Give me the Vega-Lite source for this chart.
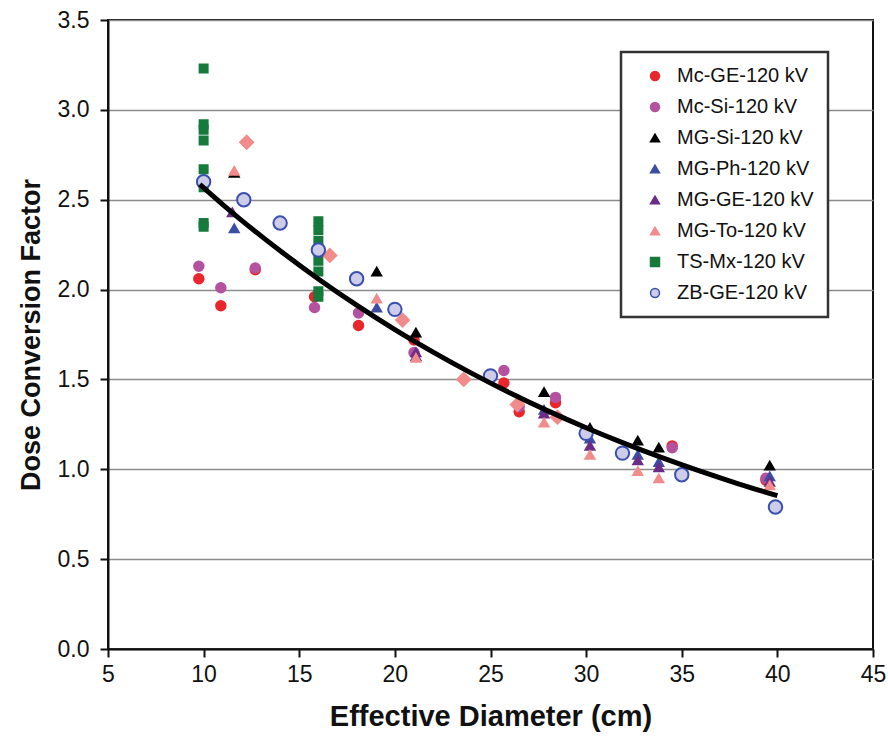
{
  "$schema": "https://vega.github.io/schema/vega-lite/v6.json",
  "width": 765,
  "height": 629,
  "autosize": "none",
  "padding": {"left": 108, "top": 20, "right": 15, "bottom": 89},
  "background": "white",
  "config": {
    "view": {"stroke": "#111111", "strokeWidth": 2},
    "axis": {"domainColor": "#111111", "domainWidth": 2, "tickColor": "#111111", "tickWidth": 2, "tickSize": 8, "labelColor": "#111111", "titleColor": "#111111"},
    "legend": {"strokeWidth": 2.5}
  },
  "datasets": {
    "pts": [
      {"series": "Mc-GE-120 kV", "d": 9.75, "f": 2.06},
      {"series": "Mc-GE-120 kV", "d": 10.9, "f": 1.91},
      {"series": "Mc-GE-120 kV", "d": 12.7, "f": 2.11},
      {"series": "Mc-GE-120 kV", "d": 15.8, "f": 1.96},
      {"series": "Mc-GE-120 kV", "d": 18.1, "f": 1.80},
      {"series": "Mc-GE-120 kV", "d": 21.0, "f": 1.72},
      {"series": "Mc-GE-120 kV", "d": 25.7, "f": 1.48},
      {"series": "Mc-GE-120 kV", "d": 26.5, "f": 1.32},
      {"series": "Mc-GE-120 kV", "d": 28.4, "f": 1.37},
      {"series": "Mc-GE-120 kV", "d": 34.5, "f": 1.13},
      {"series": "Mc-GE-120 kV", "d": 39.4, "f": 0.94},
      {"series": "Mc-Si-120 kV", "d": 9.75, "f": 2.13},
      {"series": "Mc-Si-120 kV", "d": 10.9, "f": 2.01},
      {"series": "Mc-Si-120 kV", "d": 12.7, "f": 2.12},
      {"series": "Mc-Si-120 kV", "d": 15.8, "f": 1.90},
      {"series": "Mc-Si-120 kV", "d": 18.1, "f": 1.87},
      {"series": "Mc-Si-120 kV", "d": 21.0, "f": 1.65},
      {"series": "Mc-Si-120 kV", "d": 25.7, "f": 1.55},
      {"series": "Mc-Si-120 kV", "d": 26.5, "f": 1.35},
      {"series": "Mc-Si-120 kV", "d": 28.4, "f": 1.40},
      {"series": "Mc-Si-120 kV", "d": 34.5, "f": 1.12},
      {"series": "Mc-Si-120 kV", "d": 39.4, "f": 0.95},
      {"series": "MG-Si-120 kV", "d": 11.6, "f": 2.65},
      {"series": "MG-Si-120 kV", "d": 19.05, "f": 2.10},
      {"series": "MG-Si-120 kV", "d": 21.1, "f": 1.76},
      {"series": "MG-Si-120 kV", "d": 27.8, "f": 1.43},
      {"series": "MG-Si-120 kV", "d": 30.2, "f": 1.23},
      {"series": "MG-Si-120 kV", "d": 32.7, "f": 1.16},
      {"series": "MG-Si-120 kV", "d": 33.8, "f": 1.12},
      {"series": "MG-Si-120 kV", "d": 39.6, "f": 1.02},
      {"series": "MG-Ph-120 kV", "d": 11.6, "f": 2.34},
      {"series": "MG-Ph-120 kV", "d": 19.05, "f": 1.90},
      {"series": "MG-Ph-120 kV", "d": 21.1, "f": 1.63},
      {"series": "MG-Ph-120 kV", "d": 27.8, "f": 1.33},
      {"series": "MG-Ph-120 kV", "d": 30.2, "f": 1.17},
      {"series": "MG-Ph-120 kV", "d": 32.7, "f": 1.08},
      {"series": "MG-Ph-120 kV", "d": 33.8, "f": 1.04},
      {"series": "MG-Ph-120 kV", "d": 39.6, "f": 0.96},
      {"series": "MG-GE-120 kV", "d": 11.5, "f": 2.43},
      {"series": "MG-GE-120 kV", "d": 21.1, "f": 1.65},
      {"series": "MG-GE-120 kV", "d": 27.8, "f": 1.31},
      {"series": "MG-GE-120 kV", "d": 30.2, "f": 1.13},
      {"series": "MG-GE-120 kV", "d": 32.7, "f": 1.05},
      {"series": "MG-GE-120 kV", "d": 33.8, "f": 1.01},
      {"series": "MG-GE-120 kV", "d": 39.6, "f": 0.93},
      {"series": "MG-To-120 kV", "d": 11.6, "f": 2.66},
      {"series": "MG-To-120 kV", "d": 19.05, "f": 1.95},
      {"series": "MG-To-120 kV", "d": 21.1, "f": 1.62},
      {"series": "MG-To-120 kV", "d": 27.8, "f": 1.26},
      {"series": "MG-To-120 kV", "d": 30.2, "f": 1.08},
      {"series": "MG-To-120 kV", "d": 32.7, "f": 0.99},
      {"series": "MG-To-120 kV", "d": 33.8, "f": 0.95},
      {"series": "MG-To-120 kV", "d": 39.6, "f": 0.91},
      {"series": "MG-To diamonds", "d": 12.25, "f": 2.82},
      {"series": "MG-To diamonds", "d": 16.6, "f": 2.19},
      {"series": "MG-To diamonds", "d": 20.4, "f": 1.83},
      {"series": "MG-To diamonds", "d": 23.6, "f": 1.50},
      {"series": "MG-To diamonds", "d": 26.4, "f": 1.36},
      {"series": "MG-To diamonds", "d": 28.5, "f": 1.29},
      {"series": "TS-Mx-120 kV", "d": 10, "f": 3.23},
      {"series": "TS-Mx-120 kV", "d": 10, "f": 2.92},
      {"series": "TS-Mx-120 kV", "d": 10, "f": 2.89},
      {"series": "TS-Mx-120 kV", "d": 10, "f": 2.83},
      {"series": "TS-Mx-120 kV", "d": 10, "f": 2.67},
      {"series": "TS-Mx-120 kV", "d": 10, "f": 2.57},
      {"series": "TS-Mx-120 kV", "d": 10, "f": 2.37},
      {"series": "TS-Mx-120 kV", "d": 10, "f": 2.35},
      {"series": "TS-Mx-120 kV", "d": 16, "f": 2.38},
      {"series": "TS-Mx-120 kV", "d": 16, "f": 2.33},
      {"series": "TS-Mx-120 kV", "d": 16, "f": 2.27},
      {"series": "TS-Mx-120 kV", "d": 16, "f": 2.22},
      {"series": "TS-Mx-120 kV", "d": 16, "f": 2.16},
      {"series": "TS-Mx-120 kV", "d": 16, "f": 2.10},
      {"series": "TS-Mx-120 kV", "d": 16, "f": 1.99},
      {"series": "TS-Mx-120 kV", "d": 16, "f": 1.96},
      {"series": "ZB-GE-120 kV", "d": 10, "f": 2.60},
      {"series": "ZB-GE-120 kV", "d": 12.1, "f": 2.50},
      {"series": "ZB-GE-120 kV", "d": 14, "f": 2.37},
      {"series": "ZB-GE-120 kV", "d": 16, "f": 2.22},
      {"series": "ZB-GE-120 kV", "d": 18, "f": 2.06},
      {"series": "ZB-GE-120 kV", "d": 20, "f": 1.89},
      {"series": "ZB-GE-120 kV", "d": 25, "f": 1.52},
      {"series": "ZB-GE-120 kV", "d": 30, "f": 1.20},
      {"series": "ZB-GE-120 kV", "d": 31.9, "f": 1.09},
      {"series": "ZB-GE-120 kV", "d": 35, "f": 0.97},
      {"series": "ZB-GE-120 kV", "d": 39.9, "f": 0.79}
    ],
    "fit": [
      {"d": 9.8, "f": 2.585},
      {"d": 11, "f": 2.473},
      {"d": 12, "f": 2.384},
      {"d": 14, "f": 2.216},
      {"d": 16, "f": 2.059},
      {"d": 18, "f": 1.913},
      {"d": 20, "f": 1.777},
      {"d": 22, "f": 1.652},
      {"d": 24, "f": 1.535},
      {"d": 26, "f": 1.426},
      {"d": 28, "f": 1.325},
      {"d": 30, "f": 1.231},
      {"d": 32, "f": 1.144},
      {"d": 34, "f": 1.063},
      {"d": 36, "f": 0.988},
      {"d": 38, "f": 0.918},
      {"d": 40, "f": 0.853}
    ]
  },
  "layer": [
    {
      "data": {"name": "pts"},
      "mark": {"type": "point", "filled": true, "strokeWidth": 2, "opacity": 1},
      "encoding": {
        "x": {"field": "d", "type": "quantitative",
          "scale": {"domain": [5, 45], "nice": false, "zero": false},
          "axis": {"values": [5, 10, 15, 20, 25, 30, 35, 40, 45], "grid": false, "title": "Effective Diameter (cm)",
            "labelFont": "Liberation Sans Narrow, Liberation Sans", "labelFontSize": 23, "labelPadding": 6, "labelFlush": false,
            "titleFont": "Liberation Sans Narrow, Liberation Sans", "titleFontSize": 29, "titleFontWeight": "bold", "titlePadding": 16}},
        "y": {"field": "f", "type": "quantitative",
          "scale": {"domain": [0, 3.5], "nice": false},
          "axis": {"values": [0, 0.5, 1, 1.5, 2, 2.5, 3, 3.5], "format": ".1f", "grid": true, "gridColor": "#8c8c8c", "gridWidth": 1.5,
            "title": "Dose Conversion Factor",
            "labelFont": "Liberation Sans", "labelFontSize": 23, "labelPadding": 11, "labelFlush": false,
            "titleFont": "Liberation Sans", "titleFontSize": 27, "titleFontWeight": "bold", "titlePadding": 12}},
        "fill": {"field": "series", "type": "nominal",
          "scale": {
            "domain": ["Mc-GE-120 kV", "Mc-Si-120 kV", "MG-Si-120 kV", "MG-Ph-120 kV", "MG-GE-120 kV", "MG-To-120 kV", "MG-To diamonds", "TS-Mx-120 kV", "ZB-GE-120 kV"],
            "range": ["#e8262b", "#b5529f", "#000000", "#3b4ea3", "#6b2c86", "#f28b8b", "#f28b8b", "#167a3c", "#cdcdea"]},
          "legend": {
            "values": ["Mc-GE-120 kV", "Mc-Si-120 kV", "MG-Si-120 kV", "MG-Ph-120 kV", "MG-GE-120 kV", "MG-To-120 kV", "TS-Mx-120 kV", "ZB-GE-120 kV"],
            "title": null, "orient": "none", "legendX": 513, "legendY": 32,
            "fillColor": "white", "strokeColor": "#333333",
            "padding": 14, "symbolOffset": 10, "labelOffset": 12, "rowPadding": 11,
            "labelFont": "Liberation Sans", "labelFontSize": 20, "labelColor": "#111111", "labelLimit": 300,
            "symbolStrokeWidth": 1.5, "symbolSize": 80}},
        "stroke": {"field": "series", "type": "nominal",
          "scale": {
            "domain": ["Mc-GE-120 kV", "Mc-Si-120 kV", "MG-Si-120 kV", "MG-Ph-120 kV", "MG-GE-120 kV", "MG-To-120 kV", "MG-To diamonds", "TS-Mx-120 kV", "ZB-GE-120 kV"],
            "range": ["#e8262b", "#b5529f", "#000000", "#3b4ea3", "#6b2c86", "#f28b8b", "#f28b8b", "#167a3c", "#3a4fae"]}},
        "shape": {"field": "series", "type": "nominal",
          "scale": {
            "domain": ["Mc-GE-120 kV", "Mc-Si-120 kV", "MG-Si-120 kV", "MG-Ph-120 kV", "MG-GE-120 kV", "MG-To-120 kV", "MG-To diamonds", "TS-Mx-120 kV", "ZB-GE-120 kV"],
            "range": ["circle", "circle", "triangle-up", "triangle-up", "triangle-up", "triangle-up", "diamond", "square", "circle"]}},
        "size": {
          "condition": [
            {"test": "datum.series === 'ZB-GE-120 kV'", "value": 180},
            {"test": "datum.series === 'MG-To diamonds'", "value": 170},
            {"test": "datum.series === 'TS-Mx-120 kV'", "value": 64},
            {"test": "datum.series === 'Mc-GE-120 kV' || datum.series === 'Mc-Si-120 kV'", "value": 90}
          ],
          "value": 80}
      }
    },
    {
      "data": {"name": "fit"},
      "mark": {"type": "line", "color": "#000000", "strokeWidth": 5, "interpolate": "monotone"},
      "encoding": {
        "x": {"field": "d", "type": "quantitative"},
        "y": {"field": "f", "type": "quantitative"}
      }
    }
  ]
}
